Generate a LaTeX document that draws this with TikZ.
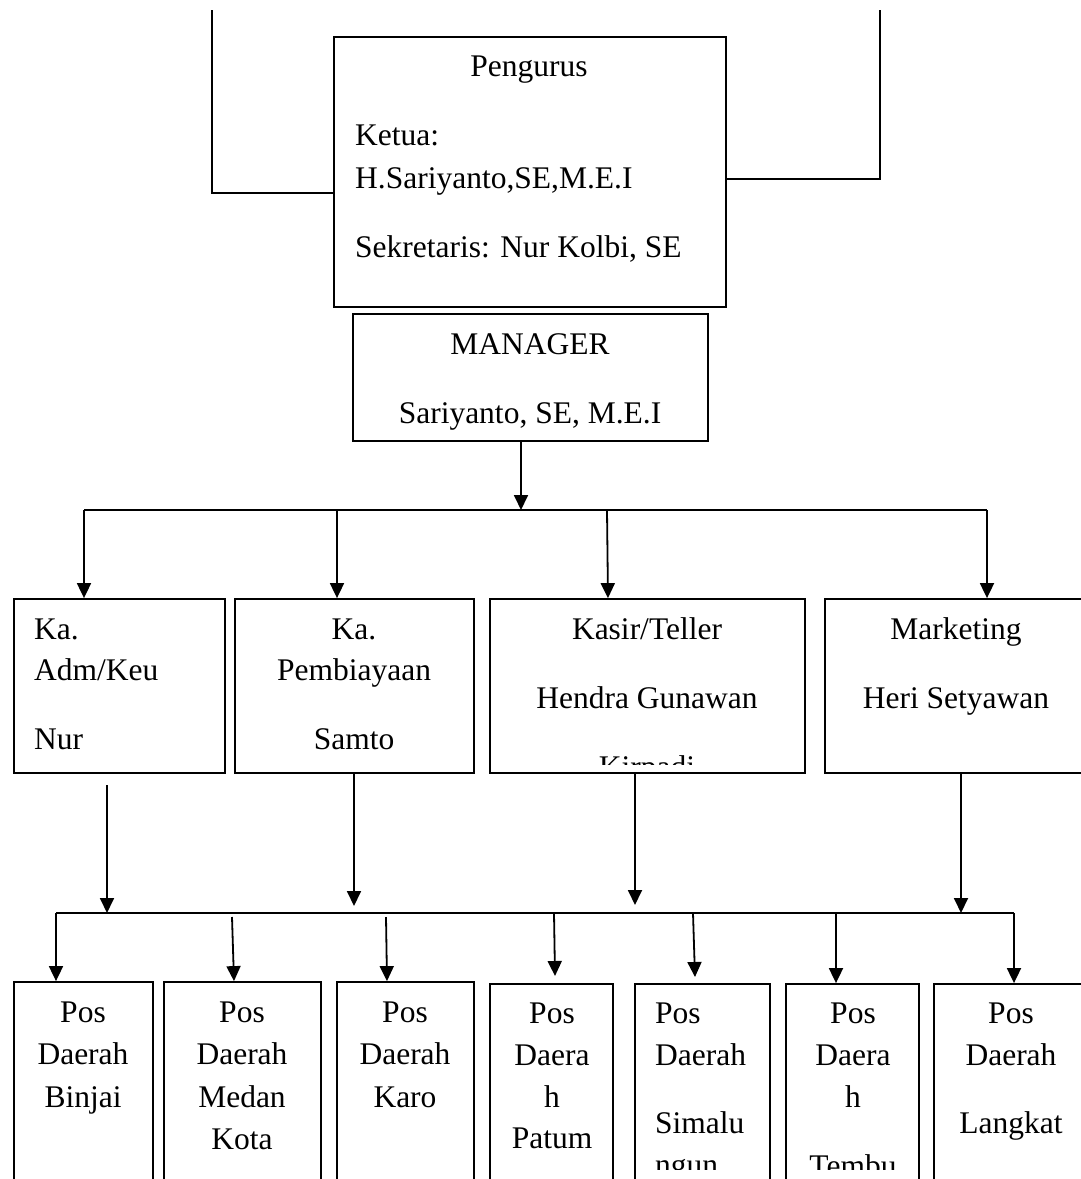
\documentclass[tikz,border=0pt]{standalone}
\usepackage{fontspec}
\setmainfont{Liberation Serif}
\usetikzlibrary{arrows.meta}
\begin{document}
\begin{tikzpicture}[x=1pt,y=-1pt,
  box/.style={draw, line width=1.8pt, inner sep=0pt},
  txt/.style={anchor=base, inner sep=0pt, font=\fontsize{31.5}{38}\selectfont},
  ltxt/.style={txt, anchor=base west},
  wire/.style={line width=1.8pt},
  arr/.style={wire, -{Triangle[width=14pt,length=15pt]}}]
\useasboundingbox (0,0) rectangle (1081,1179);
\clip (0,0) rectangle (1081,1179);

% ---------- boxes ----------
\node[box, minimum width=392pt, minimum height=270pt] (peng) at (530,172) {};
\node[box, minimum width=355pt, minimum height=127pt] (mgr) at (530.5,377.5) {};
\node[box, minimum width=211pt, minimum height=174pt] (adm) at (119.5,686) {};
\node[box, minimum width=239pt, minimum height=174pt] (pemb) at (354.5,686) {};
\node[box, minimum width=315pt, minimum height=174pt] (kasir) at (647.5,686) {};
\node[box, minimum width=270pt, minimum height=174pt] (mkt) at (960,686) {};
\node[box, minimum width=139pt, minimum height=260pt] (binjai) at (83.5,1112) {};
\node[box, minimum width=157pt, minimum height=260pt] (medan) at (242.5,1112) {};
\node[box, minimum width=137pt, minimum height=260pt] (karo) at (405.5,1112) {};
\node[box, minimum width=123pt, minimum height=260pt] (patum) at (551.5,1114) {};
\node[box, minimum width=135pt, minimum height=260pt] (simal) at (702.5,1114) {};
\node[box, minimum width=133pt, minimum height=260pt] (tembu) at (852.5,1114) {};
\node[box, minimum width=170pt, minimum height=260pt] (langkat) at (1019,1114) {};

% ---------- texts ----------
\node[txt] (tPeng) at (529,76) {Pengurus};
\node[ltxt] (tKetua) at (355,145) {Ketua:};
\node[ltxt] (tKetuaN) at (355,188) {H.Sariyanto,SE,M.E.I};
\node[ltxt] (tSek) at (355,257) {Sekretaris: Nur Kolbi, SE};

\node[txt] (tMgr) at (530,354) {MANAGER};
\node[txt] (tMgrN) at (530,423) {Sariyanto, SE, M.E.I};

\node[ltxt] (tAdm1) at (34,639) {Ka.};
\node[ltxt] (tAdm2) at (34,680) {Adm/Keu};
\node[ltxt] (tAdm3) at (34,749) {Nur};
\node[txt] (tPem1) at (354,639) {Ka.};
\node[txt] (tPem2) at (354,680) {Pembiayaan};
\node[txt] (tPem3) at (354,749) {Samto};
\node[txt] (tKas1) at (647,639) {Kasir/Teller};
\node[txt] (tKas2) at (647,708) {Hendra Gunawan};
\begin{scope}
  \clip (490,599) rectangle (805,764);
  \node[txt] (tKas3) at (647,777) {Kirpadi};
\end{scope}
\node[txt] (tMkt1) at (956,639) {Marketing};
\node[txt] (tMkt2) at (956,708) {Heri Setyawan};

\begin{scope}
  \clip (0,990) rectangle (1081,1169);
  \node[txt] (bj1) at (83,1022) {Pos};
  \node[txt] (bj2) at (83,1064) {Daerah};
  \node[txt] (bj3) at (83,1107) {Binjai};
  \node[txt] (md1) at (242,1022) {Pos};
  \node[txt] (md2) at (242,1064) {Daerah};
  \node[txt] (md3) at (242,1107) {Medan};
  \node[txt] (md4) at (242,1149) {Kota};
  \node[txt] (kr1) at (405,1022) {Pos};
  \node[txt] (kr2) at (405,1064) {Daerah};
  \node[txt] (kr3) at (405,1107) {Karo};
  \node[txt] (pt1) at (552,1023) {Pos};
  \node[txt] (pt2) at (552,1065) {Daera};
  \node[txt] (pt3) at (552,1107) {h};
  \node[txt] (pt4) at (552,1148) {Patum};
  \node[ltxt] (sm1) at (655,1023) {Pos};
  \node[ltxt] (sm2) at (655,1065) {Daerah};
  \node[ltxt] (sm3) at (655,1133) {Simalu};
  \node[ltxt] (sm4) at (655,1175) {ngun};
  \node[txt] (tb1) at (853,1023) {Pos};
  \node[txt] (tb2) at (853,1065) {Daera};
  \node[txt] (tb3) at (853,1107) {h};
  \node[txt] (tb4) at (853,1176) {Tembu};
  \node[txt] (lk1) at (1011,1023) {Pos};
  \node[txt] (lk2) at (1011,1065) {Daerah};
  \node[txt] (lk3) at (1011,1133) {Langkat};
\end{scope}

% ---------- connectors ----------
\coordinate (tl) at (212,10);
\coordinate (tr) at (880,10);
\draw[wire] (tl) |- (peng.west |- 0,193);
\draw[wire] (peng.east |- 0,179) -| (tr);

\coordinate (bus1) at (521,510);
\coordinate (b1L) at (84,510);
\coordinate (b1R) at (987,510);
\draw[arr] (mgr.south -| bus1) -- (bus1);
\draw[wire] (b1L) -- (b1R);
\draw[arr] (b1L) -- (adm.north -| b1L);
\draw[arr] (337,510) -- (pemb.north -| 337,0);
\draw[arr] (607,510) -- (kasir.north -| 608,0);
\draw[arr] (b1R) -- (mkt.north -| b1R);

\coordinate (b2L) at (56,913);
\coordinate (b2R) at (1014,913);
\draw[arr] (107,785) -- (107,913);
\draw[arr] (pemb.south -| 354,0) -- (354,906);
\draw[arr] (kasir.south -| 635,0) -- (635,905);
\draw[arr] (mkt.south -| 961,0) -- (961,913);
\draw[wire] (b2L) -- (b2R);
\draw[arr] (b2L) -- (binjai.north -| b2L);
\draw[arr] (232,917) -- (medan.north -| 234,0);
\draw[arr] (386,917) -- (karo.north -| 387,0);
\draw[arr] (554,913) -- (555,976);
\draw[arr] (693,913) -- (695,977);
\draw[arr] (836,913) -- (tembu.north -| 836,0);
\draw[arr] (b2R) -- (langkat.north -| b2R);
\end{tikzpicture}
\end{document}
